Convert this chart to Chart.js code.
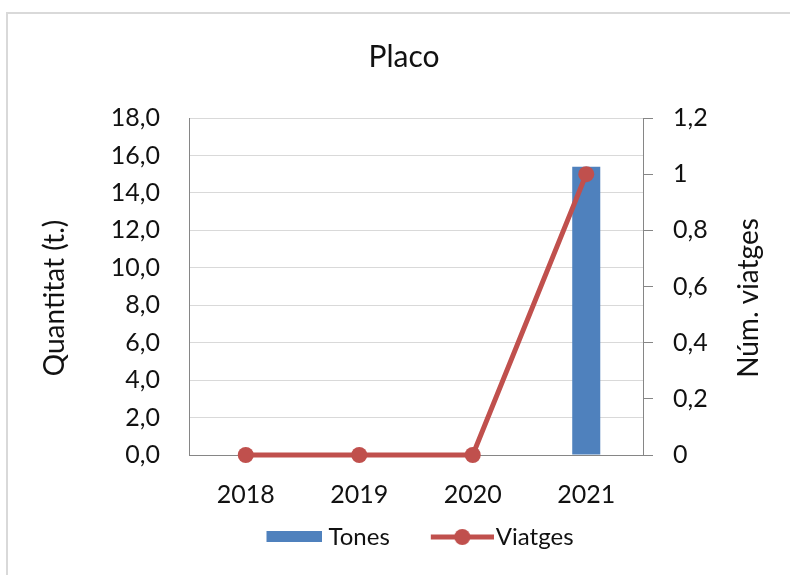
<!DOCTYPE html>
<html>
<head>
<meta charset="utf-8">
<title>Placo</title>
<script src="https://cdn.jsdelivr.net/npm/chart.js@4.4.1/dist/chart.umd.min.js"></script>
<style>
    html, body { margin: 0; padding: 0; background: #fff; overflow: hidden; }
    #wrap { position: relative; width: 790px; height: 575px; }
    #frame { position: absolute; left: 6px; top: 12px; width: 800px; height: 600px; border: 2px solid #d9d9d9; box-sizing: border-box; }
    #chart { position: absolute; left: 0; top: 0; }
</style>
</head>
<body>
<div id="wrap">
    <div id="frame"></div>
    <canvas id="chart" width="790" height="575"></canvas>
</div>
<script>
;(function () {
    'use strict';

    // data
    var years = ['2018', '2019', '2020', '2021'];
    var tones = [0, 0, 0, 15.4];
    var viatges = [0, 0, 0, 1];

    var chartTitle = 'Placo';
    var leftTitle = 'Quantitat (t.)';
    var rightTitle = 'Núm. viatges';

    var BLUE = '#4f81bd';
    var RED = '#c0504d';
    var TEXT = '#111';
    var GRID = '#d9d9d9';
    var AXIS = '#868686';
    var FONT = 'Lato';
    var LEGEND_BOTTOM = 16;
    var PAD_LEFT = 20;

    function comma(v, digits) {
        return v.toFixed(digits).replace('.', ',');
    }

    // legend symbols; the canvases carry some empty room so the
    // swatch sits close to its own text and away from the previous one
    function legendIcon(type) {
        var c = document.createElement('canvas');
        var ctx = c.getContext('2d');
        if (type === 'bar') {
            c.width = 92;
            c.height = 12;
            ctx.fillStyle = BLUE;
            ctx.fillRect(36, 0, 56, 11);
        } else {
            c.width = 100;
            c.height = 18;
            ctx.strokeStyle = RED;
            ctx.lineWidth = 5;
            ctx.beginPath();
            ctx.moveTo(37, 9);
            ctx.lineTo(100, 9);
            ctx.stroke();
            ctx.fillStyle = RED;
            ctx.beginPath();
            ctx.arc(68.5, 9, 8, 0, Math.PI * 2);
            ctx.fill();
        }
        return c;
    }

    var icons = { bar: legendIcon('bar'), line: legendIcon('line') };

    // title and the two rotated axis titles
    var textPlugin = {
        id: 'chartTexts',
        afterDraw: function (chart) {
            var ctx = chart.ctx;
            var midY = 298;
            ctx.save();
            ctx.fillStyle = TEXT;
            ctx.textAlign = 'center';
            ctx.textBaseline = 'middle';

            ctx.font = '30px ' + FONT;
            ctx.fillText(chartTitle, 404, 57);

            ctx.font = '28px ' + FONT;
            ctx.save();
            ctx.translate(55, midY);
            ctx.rotate(-Math.PI / 2);
            ctx.fillText(leftTitle, 0, 0);
            ctx.restore();

            ctx.save();
            ctx.translate(749, midY);
            ctx.rotate(-Math.PI / 2);
            ctx.fillText(rightTitle, 0, 0);
            ctx.restore();

            ctx.restore();
        }
    };

    new Chart(document.getElementById('chart'), {
        data: {
            labels: years,
            datasets: [
                {
                    type: 'line',
                    label: 'Viatges',
                    data: viatges,
                    yAxisID: 'y1',
                    borderColor: RED,
                    backgroundColor: RED,
                    borderWidth: 5,
                    pointRadius: 8,
                    pointHoverRadius: 8,
                    pointBackgroundColor: RED,
                    pointBorderWidth: 0,
                    tension: 0,
                    clip: false,
                    order: 0
                },
                {
                    type: 'bar',
                    label: 'Tones',
                    data: tones,
                    yAxisID: 'y',
                    backgroundColor: BLUE,
                    borderWidth: 0,
                    categoryPercentage: 1,
                    barPercentage: 0.247,
                    order: 1
                }
            ]
        },
        options: {
            responsive: false,
            animation: false,
            layout: {
                padding: { left: PAD_LEFT, right: 0, top: 118, bottom: LEGEND_BOTTOM }
            },
            plugins: {
                title: { display: false },
                tooltip: { enabled: false },
                legend: {
                    display: true,
                    position: 'bottom',
                    labels: {
                        usePointStyle: true,
                        pointStyleWidth: 80,
                        padding: 14,
                        color: TEXT,
                        font: { family: FONT, size: 24 },
                        sort: function (a, b) {
                            return b.datasetIndex - a.datasetIndex;
                        },
                        generateLabels: function (chart) {
                            var items = Chart.defaults.plugins.legend.labels.generateLabels(chart);
                            items.forEach(function (it) {
                                it.pointStyle = icons[chart.data.datasets[it.datasetIndex].type];
                            });
                            return items;
                        }
                    }
                }
            },
            scales: {
                x: {
                    grid: { display: true, drawOnChartArea: false, drawTicks: false },
                    border: { display: true, color: AXIS, width: 1 },
                    ticks: {
                        color: TEXT,
                        padding: 25,
                        font: { family: FONT, size: 25 }
                    },
                    afterFit: function (scale) {
                        var chart = scale.chart;
                        scale.height = chart.height - LEGEND_BOTTOM - chart.legend.height - 455;
                    }
                },
                y: {
                    position: 'left',
                    min: 0,
                    max: 18,
                    grid: { color: GRID, lineWidth: 1, drawTicks: false },
                    border: { display: true, color: AXIS, width: 1 },
                    ticks: {
                        stepSize: 2,
                        color: TEXT,
                        padding: 29,
                        font: { family: FONT, size: 25 },
                        callback: function (v) {
                            return comma(v, 1);
                        }
                    },
                    afterFit: function (scale) {
                        scale.width = 189 - PAD_LEFT;
                    }
                },
                y1: {
                    position: 'right',
                    min: 0,
                    max: 1.2,
                    grid: { drawOnChartArea: false, drawTicks: true, tickLength: 10, color: AXIS },
                    border: { display: true, color: AXIS, width: 1 },
                    ticks: {
                        stepSize: 0.2,
                        color: TEXT,
                        padding: 20,
                        font: { family: FONT, size: 25 },
                        callback: function (v) {
                            var r = Math.round(v * 10) / 10;
                            return r % 1 === 0 ? String(r) : comma(r, 1);
                        }
                    },
                    afterFit: function (scale) {
                        scale.width = 147;
                    }
                }
            }
        },
        plugins: [textPlugin]
    });
})();
</script>
</body>
</html>
